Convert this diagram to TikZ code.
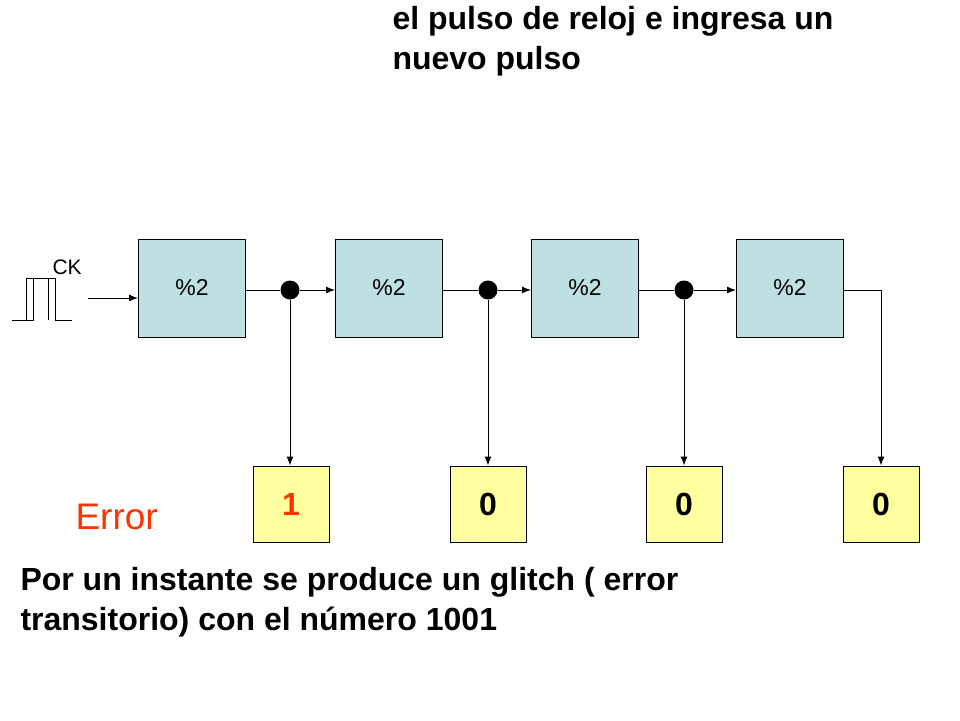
\documentclass[tikz,border=0pt]{standalone}
\usepackage{fontspec}
\setmainfont{Liberation Sans}
\usetikzlibrary{arrows.meta}
\begin{document}
\begin{tikzpicture}[x=1pt,y=-1pt,line width=1pt,
 cbox/.style={draw,fill=cyanbg,minimum width=107pt,minimum height=98pt,inner sep=0pt,font=\fontsize{23}{26}\selectfont},
 ybox/.style={draw,fill=ylw,minimum width=76pt,minimum height=76pt,inner sep=0pt,font=\bfseries\fontsize{32}{36}\selectfont},
 arr/.style={-{Latex[length=9pt,width=7pt]}},
 dot/.style={circle,fill=black,inner sep=0pt,minimum size=19pt}]
\definecolor{cyanbg}{HTML}{BEE0E3}
\definecolor{ylw}{HTML}{FFFF9F}
\definecolor{errred}{HTML}{FF3300}
\useasboundingbox (0,0) rectangle (960,720);
\node[cbox] (c1) at (192,288) {\%2};
\node[cbox] (c2) at (389,288) {\%2};
\node[cbox] (c3) at (585,288) {\%2};
\node[cbox] (c4) at (790,288) {\%2};
\node[ybox,text=errred] (y1) at (291,504) {1};
\node[ybox] (y2) at (488,504) {0};
\node[ybox] (y3) at (684,504) {0};
\node[ybox] (y4) at (881,504) {0};
\node[dot] (d1) at (290,290) {};
\node[dot] (d2) at (488,290) {};
\node[dot] (d3) at (684,290) {};
\coordinate (ck) at (88,298);
\coordinate (k4) at (881,290);
\draw[arr] (ck) -- (ck -| c1.west);
\draw (c1.east |- d1) -- (d1);
\draw[arr] (d1) -- (d1 -| c2.west);
\draw (c2.east |- d2) -- (d2);
\draw[arr] (d2) -- (d2 -| c3.west);
\draw (c3.east |- d3) -- (d3);
\draw[arr] (d3) -- (d3 -| c4.west);
\draw[arr] (d1) -- (d1 |- y1.north);
\draw[arr] (d2) -- (d2 |- y2.north);
\draw[arr] (d3) -- (d3 |- y3.north);
\draw[arr] (c4.east |- k4) -- (k4) -- (k4 |- y4.north);
\draw (12,320) -- (33,320) -- (33,278);
\draw (26,320) -- (26,278) -- (55,278) -- (55,320) -- (72,320);
\draw (48,278) -- (48,320);
\node[anchor=base west,font=\fontsize{21}{24}\selectfont,inner sep=0pt] (cklbl) at (52,274) {CK};
\node[anchor=base west,align=left,font=\bfseries\fontsize{32}{40}\selectfont,inner sep=0pt] (top) at (392,69) {No ha terminado de propagarse\\el pulso de reloj e ingresa un\\nuevo pulso};
\node[anchor=base west,text=errred,font=\fontsize{37}{42}\selectfont,inner sep=0pt] (err) at (75,529) {Error};
\node[anchor=base west,align=left,font=\bfseries\fontsize{32}{40}\selectfont,inner sep=0pt] (bot) at (20,630) {Por un instante se produce un glitch ( error\\transitorio) con el número 1001};
\end{tikzpicture}
\end{document}
